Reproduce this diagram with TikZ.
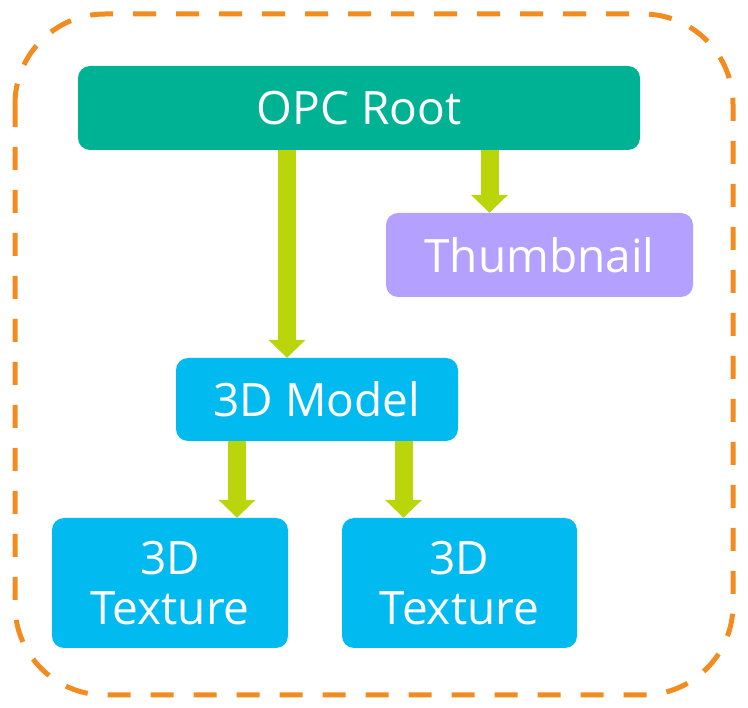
\documentclass[tikz,border=0pt]{standalone}
\usepackage{fontspec}
\setmainfont{Open Sans}
\usetikzlibrary{arrows.meta}
\definecolor{rootgreen}{RGB}{0,178,148}
\definecolor{modelblue}{RGB}{0,186,240}
\definecolor{thumbpurple}{RGB}{180,160,255}
\definecolor{arrowgreen}{RGB}{186,214,10}
\definecolor{frameorange}{RGB}{242,140,30}
\tikzset{
  part/.style={rounded corners=12pt,inner sep=0pt,text=white,align=center,
    font=\fontsize{46}{50}\selectfont},
  link/.style={draw=arrowgreen,line width=18pt,-{Triangle[width=36pt,length=18pt]}},
}
\begin{document}
\begin{tikzpicture}[x=1pt,y=-1pt]
				\useasboundingbox (0,0) rectangle (748,708);
				\draw [frameorange,line width=5pt,dash pattern=on 23pt off 20pt,rounded corners=90pt] (15,14) rectangle (733,695);
				\node [part,fill=rootgreen,minimum width=562pt,minimum height=84pt] (root) at (359,108) {OPC Root};
				\node [part,fill=thumbpurple,minimum width=307pt,minimum height=84pt] (thumb) at (539.5,255) {Thumbnail};
				\node [part,fill=modelblue,minimum width=282pt,minimum height=83pt] (model) at (317,399.5) {3D Model};
				\node [part,fill=modelblue,minimum width=236pt,minimum height=130pt] (texL) at (170,583) {3D\\Texture};
				\node [part,fill=modelblue,minimum width=235pt,minimum height=130pt] (texR) at (459.5,583) {3D\\Texture};
				\draw [link] ([xshift=-30pt]model.north |- root.south) to ([xshift=-30pt]model.north);
				\draw [link] ([xshift=-50pt]thumb.north |- root.south) to ([xshift=-50pt]thumb.north);
				\draw [link] ([xshift=67pt]texL.north |- model.south) to ([xshift=67pt]texL.north);
				\draw [link] ([xshift=-56pt]texR.north |- model.south) to ([xshift=-56pt]texR.north);
			\end{tikzpicture}
\end{document}
